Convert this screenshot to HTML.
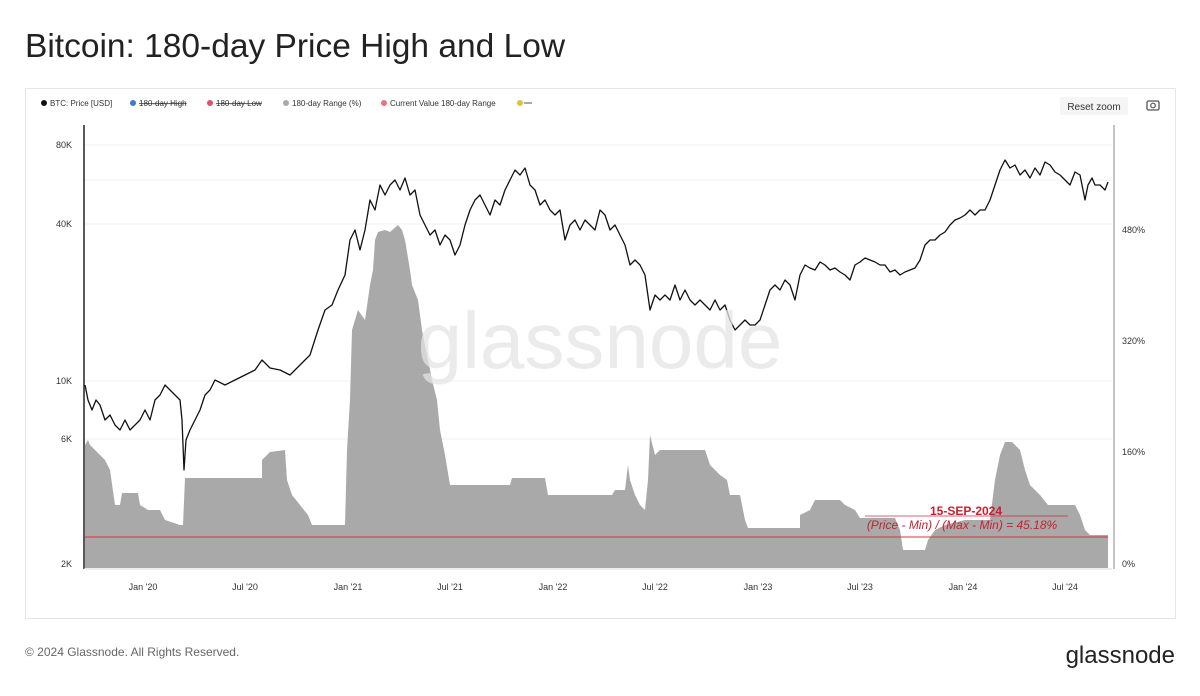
<!DOCTYPE html>
<html><head><meta charset="utf-8"><style>
body{margin:0;background:#fff;width:1200px;height:691px;overflow:hidden;font-family:"Liberation Sans",sans-serif}
</style></head><body>
<svg width="1200" height="691" xmlns="http://www.w3.org/2000/svg" font-family="Liberation Sans, sans-serif">
<text x="25" y="57" font-size="33.5" fill="#222">Bitcoin: 180-day Price High and Low</text>
<rect x="25.5" y="88.5" width="1150" height="530" fill="#fff" stroke="#e6e6e6"/>
<g font-size="8" fill="#333">
<circle cx="44" cy="103" r="3" fill="#111"/><text x="50" y="106">BTC: Price [USD]</text>
<circle cx="133" cy="103" r="3" fill="#3a7bd5"/><text x="139" y="106" text-decoration="line-through">180-day High</text>
<circle cx="210" cy="103" r="3" fill="#e0506a"/><text x="216" y="106" text-decoration="line-through">180-day Low</text>
<circle cx="286" cy="103" r="3" fill="#aaa"/><text x="292" y="106">180-day Range (%)</text>
<circle cx="384" cy="103" r="3" fill="#f07080"/><text x="390" y="106">Current Value 180-day Range</text>
<circle cx="520" cy="103" r="3" fill="#e0c040"/><line x1="524" y1="103" x2="532" y2="103" stroke="#555"/>
</g>
<rect x="1060" y="97" width="68" height="18" rx="2" fill="#f5f5f5"/>
<text x="1094" y="110" font-size="10" fill="#333" text-anchor="middle">Reset zoom</text>
<rect x="1147" y="101" width="12" height="9" rx="1.5" fill="none" stroke="#555" stroke-width="1.3"/><circle cx="1153" cy="105.5" r="2.3" fill="none" stroke="#555" stroke-width="1.2"/>
<g stroke="#f0f0f0"><line x1="84" y1="145" x2="1112" y2="145"/><line x1="84" y1="224" x2="1112" y2="224"/><line x1="84" y1="381" x2="1112" y2="381"/><line x1="84" y1="439" x2="1112" y2="439"/><line x1="84" y1="180" x2="1112" y2="180"/></g>
<polygon fill="#a9a9a9" points="85,445 88,440 90,445 95,450 100,455 105,460 110,470 115,505 120,505 122,493 138,493 140,505 148,510 160,510 165,520 180,525 183,525 185,478 262,478 262,460 270,452 285,450 287,480 292,495 300,505 308,515 312,525 345,525 347,450 350,400 352,330 358,310 365,320 370,285 373,270 375,240 378,232 385,230 390,232 398,225 402,230 405,240 410,270 412,285 418,300 422,330 428,360 432,380 437,400 440,430 445,455 450,485 510,485 512,478 545,478 548,495 612,495 615,490 625,490 628,465 630,480 635,495 640,505 645,510 648,480 650,435 655,455 660,450 705,450 710,465 720,475 727,480 730,495 740,495 745,520 748,528 800,528 800,515 810,510 815,500 840,500 845,505 855,510 860,518 895,518 900,530 903,550 925,550 928,540 935,530 945,525 965,520 990,520 995,480 1000,455 1005,442 1012,442 1020,450 1025,470 1030,485 1040,495 1048,505 1075,505 1080,515 1085,530 1090,535 1108,535 1108,568 85,568"/>
<line x1="85" y1="537" x2="1108" y2="537" stroke="#e03040" stroke-width="1"/>
<line x1="865" y1="516" x2="1068" y2="516" stroke="#c03040" stroke-width="0.8"/>
<text x="966" y="515" font-size="12" fill="#c8202e" text-anchor="middle" font-weight="bold">15-SEP-2024</text>
<text x="962" y="529" font-size="12" fill="#c8202e" text-anchor="middle" font-style="italic">(Price -  Min) / (Max - Min) = 45.18%</text>
<polyline fill="none" stroke="#111" stroke-width="1.3" stroke-linejoin="round" points="85,385 88,400 92,410 96,400 100,405 105,420 110,415 115,425 120,430 125,420 130,430 135,425 140,420 145,410 150,420 155,400 160,395 165,385 170,390 175,395 180,400 182,420 184,470 186,440 190,430 195,420 200,410 205,395 210,390 215,380 225,385 235,380 245,375 255,370 262,360 270,368 280,370 290,375 300,365 310,355 318,330 325,310 332,305 338,290 345,275 350,240 355,230 360,250 365,230 370,200 375,210 380,185 385,195 390,185 395,180 400,190 405,178 410,195 415,190 420,215 425,225 430,235 435,230 440,245 445,235 450,240 455,255 460,245 465,225 470,210 475,200 480,195 485,205 490,215 495,200 500,205 505,190 510,180 515,170 520,175 525,168 530,185 535,190 540,205 545,200 550,210 555,215 560,210 565,240 570,225 575,220 580,230 585,220 590,225 595,230 600,210 605,215 610,230 615,225 620,235 625,245 630,265 635,260 640,265 645,275 650,310 655,295 660,300 665,295 670,300 675,285 680,300 685,290 690,300 695,305 700,300 705,305 710,310 715,300 720,310 725,305 730,320 735,330 740,325 745,320 750,325 755,325 760,320 765,305 770,290 775,285 780,290 785,280 790,285 795,300 800,275 805,265 810,268 815,270 820,262 825,265 830,270 835,268 840,272 845,275 850,280 855,265 860,262 865,258 870,260 875,262 880,265 885,265 890,272 895,270 900,275 905,272 910,270 915,268 920,260 925,245 930,240 935,240 940,235 945,232 950,225 955,220 960,218 965,215 970,210 975,215 980,210 985,210 990,200 995,185 1000,170 1005,160 1010,168 1015,165 1020,175 1025,170 1030,178 1035,168 1040,175 1045,162 1050,165 1055,172 1060,175 1065,180 1070,185 1075,172 1080,175 1085,200 1088,185 1092,178 1095,185 1100,185 1105,190 1108,182"/>
<text x="600" y="368" font-size="80" fill="#e4e4e4" fill-opacity="0.75" text-anchor="middle">glassnode</text>
<line x1="84" y1="125" x2="84" y2="569" stroke="#222" stroke-width="1.5"/>
<line x1="1114" y1="125" x2="1114" y2="569" stroke="#888" stroke-width="1"/>
<line x1="84" y1="569" x2="1112" y2="569" stroke="#ddd"/>
<g font-size="9" fill="#333" text-anchor="end">
<text x="72" y="148">80K</text><text x="72" y="227">40K</text><text x="72" y="384">10K</text><text x="72" y="442">6K</text><text x="72" y="567">2K</text></g>
<g font-size="9" fill="#333">
<text x="1122" y="233">480%</text><text x="1122" y="344">320%</text><text x="1122" y="455">160%</text><text x="1122" y="567">0%</text></g>
<g font-size="9" fill="#333" text-anchor="middle">
<text x="143" y="590">Jan '20</text><text x="245" y="590">Jul '20</text><text x="348" y="590">Jan '21</text><text x="450" y="590">Jul '21</text><text x="553" y="590">Jan '22</text><text x="655" y="590">Jul '22</text><text x="758" y="590">Jan '23</text><text x="860" y="590">Jul '23</text><text x="963" y="590">Jan '24</text><text x="1065" y="590">Jul '24</text></g>
<text x="25" y="656" font-size="12" fill="#666">© 2024 Glassnode. All Rights Reserved.</text>
<text x="1175" y="663" font-size="24" fill="#222" text-anchor="end">glassnode</text>
</svg>
</body></html>
